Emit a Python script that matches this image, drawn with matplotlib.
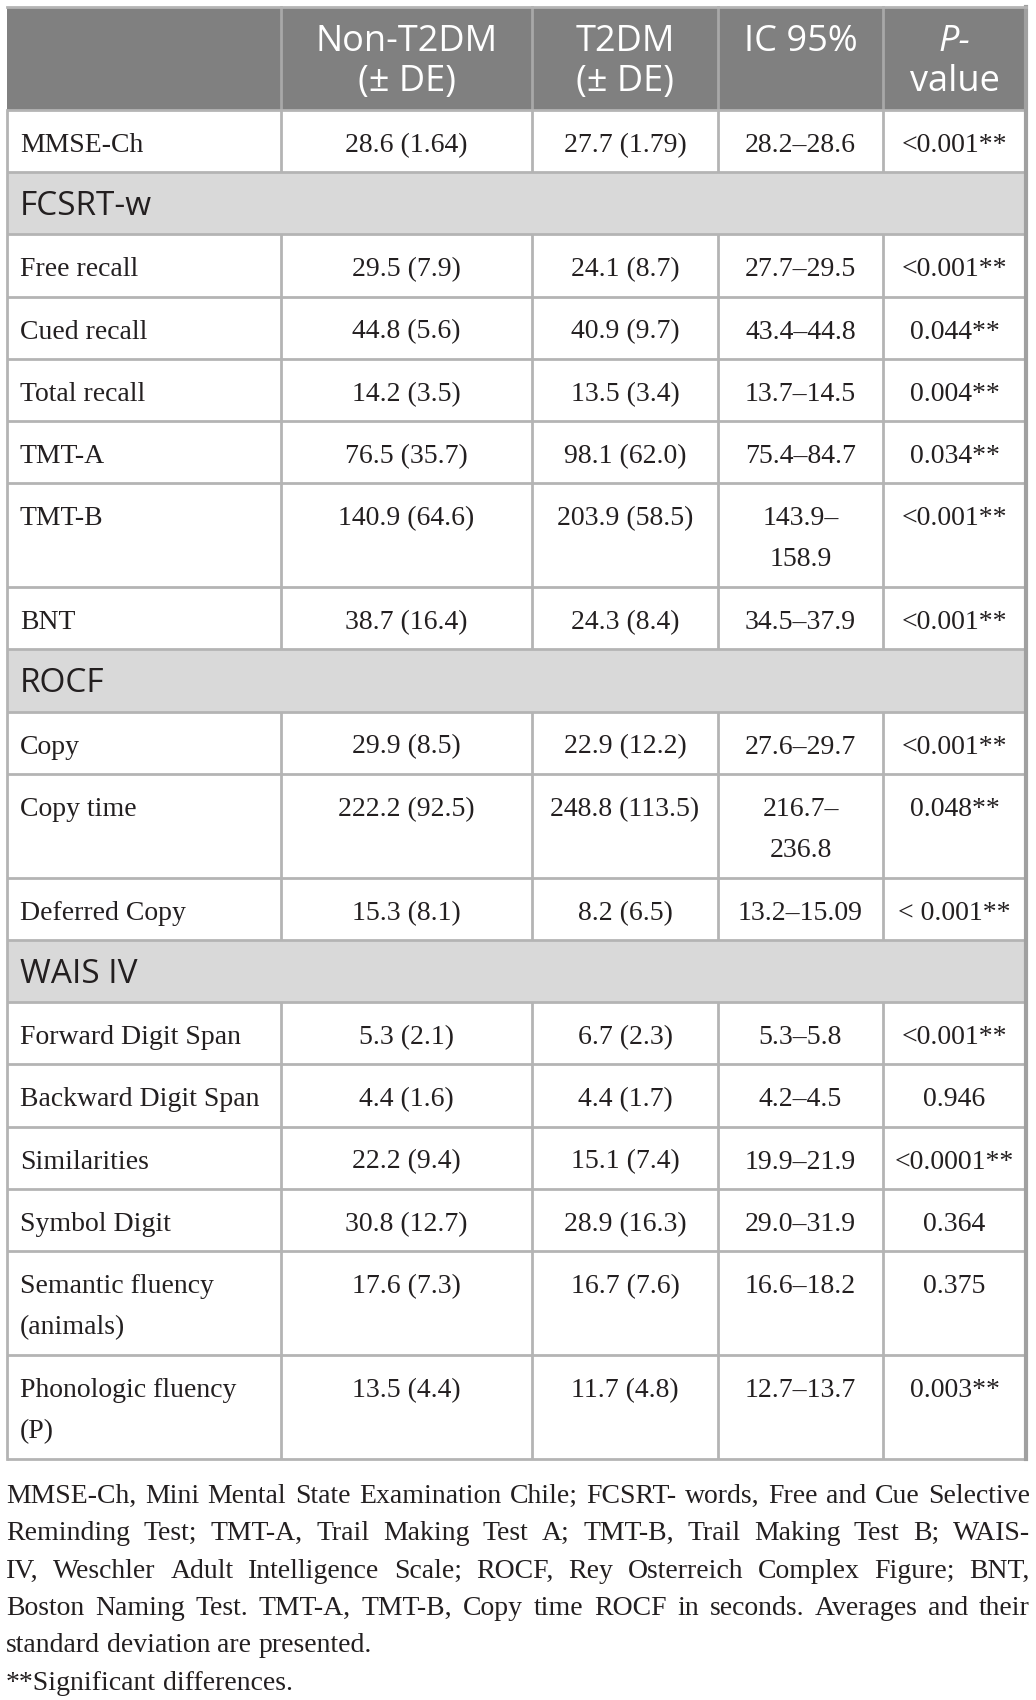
import matplotlib
matplotlib.use("Agg")
import matplotlib.pyplot as plt
from matplotlib.patches import Rectangle

# table content
header_cols = ["", "Non-T2DM\n(± DE)", "T2DM\n(± DE)", "IC 95%", "P-\nvalue"]
row_labels = ["MMSE-Ch", "FCSRT-w", "Free recall", "Cued recall", "Total recall",
              "TMT-A", "TMT-B", "BNT", "ROCF", "Copy", "Copy time", "Deferred Copy",
              "WAIS IV", "Forward Digit Span", "Backward Digit Span", "Similarities",
              "Symbol Digit", "Semantic fluency\n(animals)", "Phonologic fluency\n(P)"]
section_rows = ["FCSRT-w", "ROCF", "WAIS IV"]
non_t2dm = ["28.6 (1.64)", "", "29.5 (7.9)", "44.8 (5.6)", "14.2 (3.5)", "76.5 (35.7)",
            "140.9 (64.6)", "38.7 (16.4)", "", "29.9 (8.5)", "222.2 (92.5)", "15.3 (8.1)",
            "", "5.3 (2.1)", "4.4 (1.6)", "22.2 (9.4)", "30.8 (12.7)", "17.6 (7.3)", "13.5 (4.4)"]
t2dm = ["27.7 (1.79)", "", "24.1 (8.7)", "40.9 (9.7)", "13.5 (3.4)", "98.1 (62.0)",
        "203.9 (58.5)", "24.3 (8.4)", "", "22.9 (12.2)", "248.8 (113.5)", "8.2 (6.5)",
        "", "6.7 (2.3)", "4.4 (1.7)", "15.1 (7.4)", "28.9 (16.3)", "16.7 (7.6)", "11.7 (4.8)"]
ic95 = ["28.2–28.6", "", "27.7–29.5", "43.4–44.8", "13.7–14.5", "75.4–84.7",
        "143.9–\n158.9", "34.5–37.9", "", "27.6–29.7", "216.7–\n236.8", "13.2–15.09",
        "", "5.3–5.8", "4.2–4.5", "19.9–21.9", "29.0–31.9", "16.6–18.2", "12.7–13.7"]
p_values = ["<0.001**", "", "<0.001**", "0.044**", "0.004**", "0.034**",
            "<0.001**", "<0.001**", "", "<0.001**", "0.048**", "< 0.001**",
            "", "<0.001**", "0.946", "<0.0001**", "0.364", "0.375", "0.003**"]
footnote_lines = [
    "MMSE-Ch, Mini Mental State Examination Chile; FCSRT- words, Free and Cue Selective",
    "Reminding Test; TMT-A, Trail Making Test A; TMT-B, Trail Making Test B; WAIS-",
    "IV, Weschler Adult Intelligence Scale; ROCF, Rey Osterreich Complex Figure; BNT,",
    "Boston Naming Test. TMT-A, TMT-B, Copy time ROCF in seconds. Averages and their",
    "standard deviation are presented.",
    "**Significant differences.",
]

W, H = 1036, 1700
SERIF = "Liberation Serif"
SANS = "Open Sans"
TXT = "#231f20"
GRID = "#b4b4b4"
BODY_FS = 20

col_x = [7, 281, 532, 718, 883, 1026]
top = 7
header_h = 103
single_h = 62.2
double_h = 104
line_gap = 41

fig = plt.figure(figsize=(W / 100, H / 100), dpi=100)
fig.patch.set_facecolor("white")
ax = fig.add_axes([0, 0, 1, 1])
ax.set_xlim(0, W)
ax.set_ylim(H, 0)
ax.axis("off")

# header
ax.add_patch(Rectangle((col_x[0], top), col_x[-1] - col_x[0], header_h,
                       facecolor="#808080", edgecolor="none"))
for ci in range(1, 5):
    xc = (col_x[ci] + col_x[ci + 1]) / 2
    for li, line in enumerate(header_cols[ci].split("\n")):
        style = "italic" if line == "P-" else "normal"
        ax.text(xc, top + 44 + li * 40, line, ha="center", va="baseline",
                fontsize=26, family=SANS, color="white", style=style)
for x in col_x[1:-1]:
    ax.plot([x, x], [top, top + header_h], color="#a8a8a8", lw=2)

# body rows
y = top + header_h
row_edges = [y]
for i, lab in enumerate(row_labels):
    cells = [lab, non_t2dm[i], t2dm[i], ic95[i], p_values[i]]
    rh = double_h if any("\n" in c for c in cells) else single_h
    if lab in section_rows:
        ax.add_patch(Rectangle((col_x[0], y), col_x[-1] - col_x[0], rh,
                               facecolor="#d9d9d9", edgecolor="none"))
        ax.text(col_x[0] + 13, y + 43, lab, ha="left", va="baseline",
                fontsize=24, family=SANS, color=TXT)
    else:
        for ci, c in enumerate(cells):
            for li, line in enumerate(c.split("\n")):
                by = y + 42 + li * line_gap
                if ci == 0:
                    ax.text(col_x[0] + 13, by, line, ha="left", va="baseline",
                            fontsize=BODY_FS, family=SERIF, color=TXT)
                else:
                    xc = (col_x[ci] + col_x[ci + 1]) / 2
                    ax.text(xc, by, line, ha="center", va="baseline",
                            fontsize=BODY_FS, family=SERIF, color=TXT)
        for x in col_x[1:-1]:
            ax.plot([x, x], [y, y + rh], color=GRID, lw=2, solid_capstyle="butt")
    y += rh
    row_edges.append(y)

for ye in row_edges:
    ax.plot([col_x[0], col_x[-1]], [ye, ye], color=GRID, lw=2, solid_capstyle="butt")
ax.plot([col_x[0], col_x[0]], [row_edges[0], row_edges[-1]], color=GRID, lw=2)
ax.plot([col_x[-1], col_x[-1]], [top, row_edges[-1]], color="#a0a0a0", lw=3)
ax.plot([col_x[0], col_x[-1]], [top, top], color=GRID, lw=2)

# footnote, justified
fig.canvas.draw()
renderer = fig.canvas.get_renderer()
left, right = 6, 1030
fy0 = row_edges[-1] + 44
fgap = 37.3


def text_width(s):
    t = ax.text(0, 0, s, fontsize=BODY_FS, family=SERIF)
    w = t.get_window_extent(renderer).width
    t.remove()
    return w


for li, line in enumerate(footnote_lines):
    by = fy0 + li * fgap
    words = line.split(" ")
    widths = [text_width(wd) for wd in words]
    space = (right - left - sum(widths)) / (len(words) - 1)
    if li >= 4:
        space = text_width("a b") - text_width("ab")
    x = left
    for wd, wdt in zip(words, widths):
        ax.text(x, by, wd, ha="left", va="baseline", fontsize=BODY_FS,
                family=SERIF, color=TXT)
        x += wdt + space

fig.savefig("out.png", dpi=100, facecolor="white")
